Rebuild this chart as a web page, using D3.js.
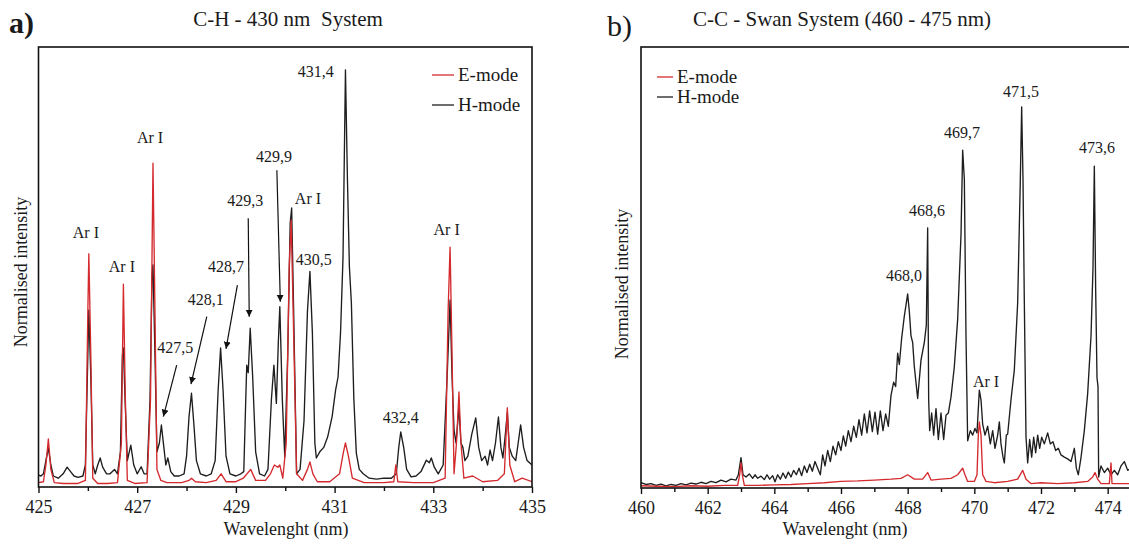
<!DOCTYPE html>
<html><head><meta charset="utf-8">
<script src="https://cdn.jsdelivr.net/npm/d3@7"></script>
<style>
body{margin:0;background:#fff;}
svg{display:block;}
svg text{font-family:"Liberation Serif","Times New Roman","DejaVu Serif",serif !important;fill:#1a1a1a;}
</style></head>
<body>
<svg id="c" width="1129" height="544"></svg>
<script>
// ---------- DATA ----------
const titleA = "C-H - 430 nm  System";
const titleB = "C-C - Swan System (460 - 475 nm)";
const seriesNames = ["E-mode", "H-mode"];
const ticksA = [425,426,427,428,429,430,431,432,433,434,435];
const tickLabelsA = [425,427,429,431,433,435];
const ticksB = [460,461,462,463,464,465,466,467,468,469,470,471,472,473,474,475];
const tickLabelsB = [460,462,464,466,468,470,472,474];

// Panel a, H-mode (black) [wavelength nm, normalised intensity]
const aH = [[425.00,0.027],[425.05,0.025],[425.10,0.03],[425.15,0.06],[425.20,0.089],[425.25,0.05],[425.30,0.025],[425.40,0.02],[425.50,0.03],[425.58,0.045],[425.65,0.035],[425.72,0.025],[425.80,0.022],[425.90,0.025],[425.95,0.05],[426.00,0.30],[426.02,0.402],[426.06,0.25],[426.10,0.05],[426.15,0.03],[426.20,0.05],[426.25,0.066],[426.30,0.045],[426.38,0.03],[426.45,0.03],[426.54,0.04],[426.60,0.03],[426.66,0.08],[426.70,0.30],[426.72,0.316],[426.76,0.18],[426.80,0.06],[426.87,0.095],[426.93,0.05],[427.00,0.03],[427.08,0.046],[427.14,0.03],[427.20,0.03],[427.26,0.2],[427.30,0.48],[427.32,0.505],[427.36,0.3],[427.40,0.08],[427.45,0.10],[427.49,0.141],[427.54,0.09],[427.58,0.05],[427.62,0.066],[427.68,0.035],[427.75,0.025],[427.85,0.025],[427.95,0.03],[428.00,0.07],[428.05,0.16],[428.10,0.213],[428.15,0.14],[428.20,0.06],[428.28,0.03],[428.40,0.025],[428.50,0.03],[428.58,0.06],[428.64,0.22],[428.69,0.316],[428.74,0.22],[428.80,0.07],[428.88,0.03],[429.00,0.025],[429.10,0.03],[429.16,0.035],[429.20,0.2],[429.22,0.277],[429.25,0.26],[429.29,0.361],[429.34,0.25],[429.40,0.08],[429.48,0.03],[429.58,0.025],[429.65,0.04],[429.72,0.2],[429.77,0.277],[429.82,0.19],[429.86,0.33],[429.89,0.41],[429.94,0.2],[429.99,0.068],[430.05,0.3],[430.10,0.6],[430.13,0.634],[430.17,0.4],[430.23,0.03],[430.30,0.04],[430.38,0.15],[430.45,0.4],[430.50,0.49],[430.55,0.35],[430.60,0.1],[430.63,0.066],[430.70,0.08],[430.78,0.09],[430.86,0.114],[430.95,0.16],[431.02,0.22],[431.07,0.25],[431.12,0.35],[431.17,0.52],[431.22,0.948],[431.26,0.7],[431.30,0.5],[431.34,0.418],[431.39,0.2],[431.44,0.077],[431.50,0.04],[431.58,0.03],[431.70,0.02],[431.85,0.018],[432.00,0.02],[432.15,0.02],[432.25,0.03],[432.30,0.09],[432.34,0.125],[432.40,0.09],[432.46,0.04],[432.55,0.023],[432.65,0.025],[432.75,0.035],[432.86,0.061],[432.92,0.055],[432.96,0.066],[433.02,0.045],[433.10,0.03],[433.20,0.05],[433.28,0.25],[433.34,0.425],[433.38,0.25],[433.42,0.13],[433.46,0.1],[433.52,0.18],[433.56,0.1],[433.60,0.09],[433.64,0.06],[433.70,0.07],[433.78,0.12],[433.86,0.157],[433.92,0.09],[433.98,0.06],[434.05,0.07],[434.10,0.05],[434.15,0.084],[434.20,0.06],[434.26,0.1],[434.32,0.159],[434.37,0.09],[434.41,0.066],[434.46,0.12],[434.50,0.17],[434.54,0.09],[434.60,0.07],[434.67,0.06],[434.72,0.1],[434.77,0.141],[434.83,0.09],[434.90,0.06],[435.00,0.05]];

// Panel a, E-mode (red)
const aE = [[425.00,0.01],[425.10,0.012],[425.15,0.05],[425.20,0.109],[425.25,0.04],[425.32,0.01],[425.50,0.008],[425.80,0.008],[425.95,0.015],[426.00,0.4],[426.02,0.53],[426.06,0.3],[426.10,0.02],[426.20,0.008],[426.40,0.008],[426.60,0.01],[426.68,0.1],[426.72,0.461],[426.76,0.2],[426.80,0.015],[426.95,0.008],[427.20,0.01],[427.27,0.2],[427.32,0.736],[427.36,0.4],[427.40,0.04],[427.48,0.015],[427.60,0.01],[427.90,0.01],[428.05,0.015],[428.10,0.02],[428.18,0.012],[428.40,0.01],[428.60,0.015],[428.70,0.03],[428.80,0.012],[429.00,0.012],[429.15,0.02],[429.30,0.04],[429.40,0.015],[429.60,0.015],[429.70,0.03],[429.78,0.05],[429.85,0.045],[429.89,0.05],[429.95,0.02],[430.02,0.1],[430.08,0.5],[430.12,0.607],[430.17,0.35],[430.23,0.03],[430.35,0.015],[430.45,0.04],[430.50,0.057],[430.56,0.03],[430.65,0.012],[430.90,0.012],[431.10,0.03],[431.18,0.08],[431.22,0.1],[431.28,0.07],[431.36,0.02],[431.60,0.01],[432.00,0.01],[432.20,0.012],[432.24,0.05],[432.28,0.012],[432.60,0.01],[433.00,0.01],[433.24,0.02],[433.30,0.4],[433.34,0.545],[433.38,0.3],[433.42,0.03],[433.47,0.1],[433.52,0.216],[433.56,0.1],[433.62,0.02],[433.80,0.025],[434.00,0.012],[434.30,0.015],[434.44,0.03],[434.50,0.18],[434.55,0.05],[434.65,0.012],[434.80,0.02],[435.00,0.012]];

// Panel b, H-mode (black)
const bH = [[460.0,0.012],[460.15,0.008],[460.3,0.01],[460.45,0.006],[460.6,0.009],[460.75,0.005],[460.9,0.008],[461.05,0.006],[461.2,0.01],[461.35,0.007],[461.5,0.011],[461.65,0.009],[461.8,0.013],[461.95,0.01],[462.1,0.015],[462.25,0.012],[462.4,0.018],[462.55,0.014],[462.7,0.02],[462.85,0.018],[462.92,0.03],[463.0,0.069],[463.06,0.03],[463.15,0.025],[463.25,0.032],[463.35,0.022],[463.42,0.03],[463.5,0.022],[463.6,0.027],[463.7,0.019],[463.78,0.03],[463.86,0.02],[463.95,0.028],[464.02,0.014],[464.1,0.03],[464.18,0.02],[464.26,0.034],[464.34,0.022],[464.42,0.036],[464.5,0.025],[464.58,0.04],[464.66,0.03],[464.74,0.045],[464.82,0.028],[464.9,0.05],[464.98,0.035],[465.06,0.054],[465.14,0.038],[465.22,0.06],[465.3,0.045],[465.38,0.03],[465.45,0.075],[465.52,0.05],[465.6,0.085],[465.68,0.06],[465.76,0.095],[465.84,0.075],[465.92,0.105],[466.0,0.085],[466.07,0.118],[466.14,0.095],[466.22,0.13],[466.3,0.105],[466.38,0.14],[466.46,0.115],[466.54,0.155],[466.62,0.12],[466.7,0.168],[466.78,0.125],[466.86,0.175],[466.94,0.128],[467.02,0.172],[467.1,0.122],[467.18,0.175],[467.26,0.13],[467.34,0.168],[467.42,0.14],[467.5,0.21],[467.58,0.24],[467.64,0.23],[467.7,0.306],[467.75,0.28],[467.82,0.34],[467.9,0.39],[467.96,0.42],[468.0,0.44],[468.05,0.40],[468.1,0.345],[468.15,0.33],[468.2,0.275],[468.3,0.203],[468.4,0.29],[468.5,0.33],[468.56,0.37],[468.6,0.59],[468.63,0.2],[468.66,0.13],[468.72,0.17],[468.78,0.12],[468.85,0.18],[468.92,0.11],[469.0,0.17],[469.08,0.11],[469.15,0.165],[469.22,0.17],[469.3,0.206],[469.4,0.275],[469.5,0.383],[469.6,0.574],[469.65,0.766],[469.7,0.7],[469.75,0.345],[469.8,0.107],[469.88,0.13],[469.95,0.12],[470.02,0.135],[470.08,0.125],[470.15,0.222],[470.2,0.2],[470.25,0.145],[470.32,0.12],[470.4,0.14],[470.48,0.1],[470.55,0.13],[470.62,0.09],[470.7,0.12],[470.75,0.15],[470.8,0.1],[470.86,0.07],[470.9,0.057],[470.96,0.12],[471.0,0.122],[471.1,0.2],[471.2,0.268],[471.3,0.42],[471.38,0.7],[471.42,0.864],[471.46,0.7],[471.5,0.42],[471.55,0.116],[471.6,0.057],[471.66,0.11],[471.72,0.07],[471.78,0.115],[471.84,0.08],[471.9,0.12],[471.96,0.09],[472.02,0.115],[472.1,0.1],[472.2,0.125],[472.28,0.1],[472.36,0.105],[472.44,0.085],[472.52,0.09],[472.6,0.075],[472.7,0.07],[472.8,0.066],[472.9,0.06],[473.0,0.09],[473.06,0.045],[473.12,0.03],[473.2,0.069],[473.3,0.13],[473.4,0.214],[473.5,0.344],[473.56,0.5],[473.6,0.73],[473.64,0.45],[473.68,0.25],[473.71,0.23],[473.73,0.025],[473.8,0.05],[473.9,0.035],[474.0,0.045],[474.1,0.03],[474.2,0.04],[474.3,0.03],[474.4,0.05],[474.5,0.06],[474.6,0.04],[474.7,0.045],[475.0,0.04]];

// Panel b, E-mode (red)
const bE = [[460.0,0.005],[460.5,0.004],[461.0,0.003],[461.5,0.005],[462.0,0.004],[462.5,0.006],[462.9,0.006],[462.96,0.03],[463.0,0.057],[463.04,0.03],[463.1,0.006],[463.5,0.006],[464.0,0.007],[464.5,0.008],[465.0,0.01],[465.5,0.012],[466.0,0.015],[466.5,0.016],[467.0,0.018],[467.5,0.02],[467.8,0.022],[468.0,0.03],[468.2,0.02],[468.45,0.02],[468.6,0.035],[468.7,0.018],[469.0,0.02],[469.3,0.022],[469.5,0.03],[469.65,0.045],[469.72,0.03],[469.8,0.015],[470.0,0.015],[470.08,0.03],[470.12,0.12],[470.15,0.15],[470.2,0.12],[470.25,0.03],[470.35,0.015],[470.6,0.012],[471.0,0.015],[471.3,0.02],[471.45,0.04],[471.55,0.02],[471.7,0.01],[472.0,0.012],[472.5,0.01],[473.0,0.012],[473.4,0.015],[473.55,0.025],[473.62,0.035],[473.7,0.02],[473.8,0.01],[474.05,0.01],[474.1,0.057],[474.13,0.01],[474.5,0.01],[475.0,0.01]];

// Peak labels: [text, wavelength, intensity]
const labelsA = [["Ar I",425.96,0.566],["Ar I",426.69,0.489],["Ar I",427.26,0.782],["427,5",427.77,0.305],["428,1",428.39,0.414],["428,7",428.80,0.489],["429,3",429.19,0.639],["429,9",429.77,0.739],["Ar I",430.46,0.643],["430,5",430.58,0.505],["431,4",430.62,0.932],["432,4",432.34,0.145],["Ar I",433.27,0.573]];
// Arrows: [from wl, from I, to wl, to I]
const arrowsA = [[427.80,0.277,427.53,0.16],[428.41,0.387,428.09,0.234],[429.03,0.459,428.80,0.314],[429.25,0.611,429.27,0.387],[429.83,0.72,429.90,0.421]];
const labelsB = [["468,0",467.89,0.47],["468,6",468.58,0.617],["469,7",469.63,0.794],["471,5",471.40,0.887],["473,6",473.68,0.76],["Ar I",470.35,0.229]];

// ---------- DRAW ----------
const FONT = '"Liberation Serif","Times New Roman","DejaVu Serif",serif';
const svg = d3.select("#c");
const RED = "#d42a2e", BLACK = "#1e1e1e";
const defs = svg.append("defs");
defs.append("marker").attr("id","arr").attr("viewBox","0 0 10 10").attr("refX",10).attr("refY",5)
  .attr("markerWidth",7).attr("markerHeight",8).attr("markerUnits","userSpaceOnUse").attr("orient","auto")
  .append("path").attr("d","M0,0L10,5L0,10Z").attr("fill","#111");

function panel(cfg){
  const g = svg.append("g");
  const x = d3.scaleLinear().domain(cfg.xdom).range(cfg.xr);
  const y = d3.scaleLinear().domain([0,1]).range(cfg.yr);
  const clipId = "clip"+cfg.id;
  defs.append("clipPath").attr("id",clipId).append("rect")
    .attr("x",cfg.xr[0]).attr("y",cfg.yr[1]).attr("width",cfg.xr[1]-cfg.xr[0]).attr("height",cfg.yr[0]-cfg.yr[1]);
  const line = d3.line().x(d=>x(d[0])).y(d=>y(d[1]));
  const gl = g.append("g").attr("clip-path",`url(#${clipId})`);
  gl.append("path").datum(cfg.H).attr("d",line).attr("fill","none").attr("stroke",BLACK).attr("stroke-width",1.35).attr("stroke-linejoin","round");
  gl.append("path").datum(cfg.E).attr("d",line).attr("fill","none").attr("stroke",RED).attr("stroke-width",1.35).attr("stroke-linejoin","round");
  // frame
  g.append("rect").attr("x",cfg.xr[0]).attr("y",cfg.yr[1]).attr("width",cfg.xr[1]-cfg.xr[0]).attr("height",cfg.yr[0]-cfg.yr[1])
    .attr("fill","none").attr("stroke","#111").attr("stroke-width",1.6);
  // axis
  const ax = d3.axisBottom(x).tickValues(cfg.ticks).tickSize(5).tickPadding(8)
    .tickFormat(d=>cfg.labels.includes(d)?String(d):"");
  const ga = g.append("g").attr("transform",`translate(0,${cfg.yr[0]})`).call(ax);
  ga.attr("font-family",FONT);
  ga.select(".domain").remove();
  ga.selectAll(".tick line").attr("stroke","#111").attr("stroke-width",1.4)
    .attr("y2",d=>cfg.labels.includes(d)?6:4);
  ga.selectAll(".tick text").attr("font-size",18).style("font-family",FONT).attr("fill","#1a1a1a");
  // axis titles
  g.append("text").attr("x",cfg.xtX).attr("y",535).attr("text-anchor","middle")
    .attr("font-size",18).style("font-family",FONT).text("Wavelenght (nm)");
  g.append("text").attr("transform",`translate(${cfg.ytX},${cfg.ytY}) rotate(-90)`).attr("text-anchor","middle")
    .attr("font-size",18).style("font-family",FONT).text("Normalised intensity");
  // title
  g.append("text").attr("x",cfg.titleX).attr("y",26).attr("text-anchor","middle").attr("font-size",21)
    .style("font-family",FONT).style("white-space","pre").text(cfg.title);
  g.append("text").attr("x",cfg.tagX).attr("y",cfg.tagY).attr("font-size",30).attr("font-weight",cfg.tagW)
    .style("font-family",FONT).text(cfg.tag);
  // labels
  g.selectAll(".lbl").data(cfg.lbls).enter().append("text").attr("x",d=>x(d[1])).attr("y",d=>y(d[2]))
    .attr("text-anchor","middle").attr("font-size",16).style("font-family",FONT).text(d=>d[0]);
  g.selectAll(".arw").data(cfg.arrows).enter().append("line")
    .attr("x1",d=>x(d[0])).attr("y1",d=>y(d[1])).attr("x2",d=>x(d[2])).attr("y2",d=>y(d[3]))
    .attr("stroke","#111").attr("stroke-width",1.2).attr("marker-end","url(#arr)");
  // legend
  const lg = g.append("g");
  [[seriesNames[0],RED],[seriesNames[1],BLACK]].forEach((s,i)=>{
    const ly = cfg.legY + i*cfg.legDy;
    lg.append("line").attr("x1",cfg.legX).attr("x2",cfg.legX+cfg.legW).attr("y1",ly).attr("y2",ly).attr("stroke",s[1]).attr("stroke-width",1.3);
    lg.append("text").attr("x",cfg.legX+cfg.legW+4).attr("y",ly+6).attr("font-size",19).style("font-family",FONT).text(s[0]);
  });
}

panel({id:"a",xdom:[425,435],xr:[38.5,532],yr:[487,47],H:aH,E:aE,ticks:ticksA,labels:tickLabelsA,
  xtX:286,ytX:27,ytY:272,title:titleA,titleX:288,tag:"a)",tagX:9,tagY:33,tagW:"bold",
  lbls:labelsA,arrows:arrowsA,legX:432,legW:22,legY:75,legDy:30});
panel({id:"b",xdom:[460,475],xr:[641,1141],yr:[488,47],H:bH,E:bE,ticks:ticksB,labels:tickLabelsB,
  xtX:845,ytX:628,ytY:284,title:titleB,titleX:842,tag:"b)",tagX:607,tagY:36,tagW:"normal",
  lbls:labelsB,arrows:[],legX:657,legW:16,legY:77,legDy:20});
</script>
</body></html>
